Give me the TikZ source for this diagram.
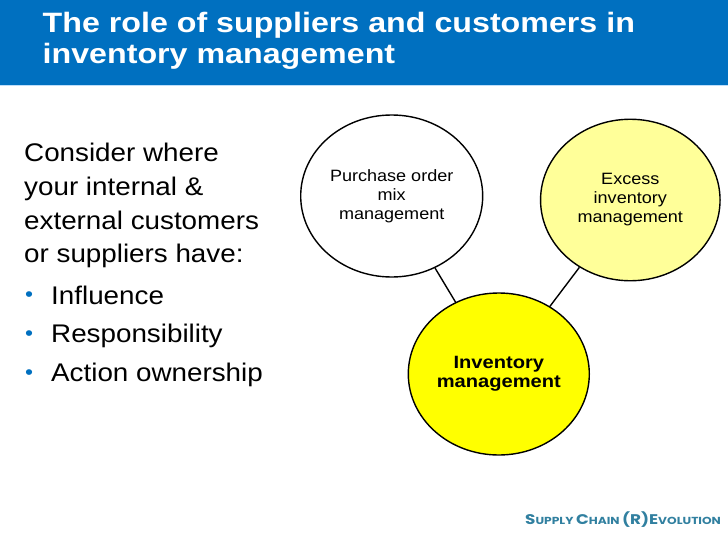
\documentclass[tikz,border=0pt]{standalone}
\usepackage{fontspec}
\setmainfont{Liberation Sans}
\newfontfamily\bodyfont{Liberation Sans}[FakeStretch=1.09]
\newfontfamily\titlefont{Liberation Sans}[FakeStretch=1.15]
\newfontfamily\circfont{Liberation Sans}[FakeStretch=1.1]
\newfontfamily\centfont{Liberation Sans}[FakeStretch=1.13]
\newfontfamily\footfont{Poppins}[FakeStretch=1.2]
\usetikzlibrary{shapes.geometric}
\definecolor{barblue}{RGB}{0,112,192}
\definecolor{lineblue}{RGB}{190,222,250}
\definecolor{bulletblue}{RGB}{0,112,192}
\definecolor{paleyellow}{RGB}{255,255,153}
\definecolor{brightyellow}{RGB}{255,255,0}
\definecolor{footteal}{RGB}{49,128,160}
\newcommand\fsmallcap[2]{{\fontsize{14}{16}\selectfont #1}{\fontsize{10.2}{12}\selectfont #2}}
\begin{document}
\begin{tikzpicture}[x=1pt,y=-1pt,
  titleline/.style={anchor=base west, inner sep=0pt, text=white,
    font=\titlefont\bfseries\fontsize{28}{32}\selectfont},
  bodyline/.style={anchor=base west, inner sep=0pt, text=black,
    font=\bodyfont\fontsize{25.5}{30}\selectfont},
  bulletmark/.style={anchor=base west, inner sep=0pt, text=bulletblue,
    font=\bodyfont\fontsize{21}{25}\selectfont},
  bubble/.style={ellipse, draw=black, line width=1.4pt, inner sep=0pt,
    align=center, text=black, font=\circfont\fontsize{16.4}{19}\selectfont},
  link/.style={draw=black, line width=1.4pt}
]
\useasboundingbox (0,0) rectangle (728,546);
\fill[white] (0,0) rectangle (728,546);
% title bar
\fill[barblue] (0,0) rectangle (728,84.7);
\fill[lineblue] (0,84.7) rectangle (728,86.2);
\node[titleline] (t1) at (42.5,32) {The role of suppliers and customers in};
\node[titleline] (t2) at (42.5,63.5) {inventory management};
% left text
\node[bodyline] (l1) at (24,161.5) {Consider where};
\node[bodyline] (l2) at (24,195.5) {your internal \&};
\node[bodyline] (l3) at (24,229.5) {external customers};
\node[bodyline] (l4) at (24,262.8) {or suppliers have:};
\node[bulletmark] (b1) at (25,301.5) {•};
\node[bodyline] (l5) at (51,304) {Influence};
\node[bulletmark] (b2) at (25,340) {•};
\node[bodyline] (l6) at (51,342.5) {Responsibility};
\node[bulletmark] (b3) at (25,379) {•};
\node[bodyline] (l7) at (51,381.5) {Action ownership};
% bubbles
\node[bubble, fill=white, minimum width=182pt, minimum height=162pt]
  (pom) at (391.7,196) {Purchase order\\mix\\management};
\node[bubble, fill=paleyellow, minimum width=179.5pt, minimum height=161.5pt]
  (exc) at (630.3,200) {Excess\\inventory\\management};
\node[bubble, fill=brightyellow, minimum width=181pt, minimum height=162pt,
  font=\centfont\bfseries\fontsize{17.8}{19.5}\selectfont]
  (inv) at (498.8,374) {Inventory\\management};
\draw[link] (pom) -- (inv);
\draw[link] (exc) -- (inv);
% footer
\node[anchor=base west, inner sep=0pt, text=footteal, font=\footfont\bfseries]
  (foot) at (525,524) {\fsmallcap{S}{UPPLY} \fsmallcap{C}{HAIN} \fsmallcap{(R)E}{VOLUTION}};
\end{tikzpicture}
\end{document}
